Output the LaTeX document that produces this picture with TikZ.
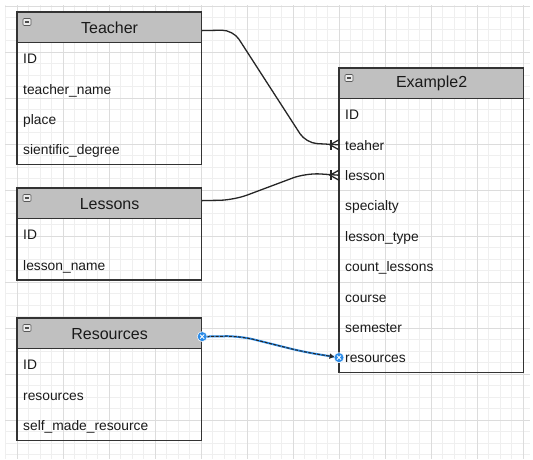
\documentclass[tikz,border=0pt]{standalone}
\usepackage{fontspec}
\setmainfont{Liberation Sans}
\usetikzlibrary{calc,arrows.meta}
\definecolor{hdrgray}{HTML}{C0C0C0}
\definecolor{boxline}{HTML}{333333}
\definecolor{gridminor}{HTML}{EFEFEF}
\definecolor{gridmajor}{HTML}{DCDCDC}
\definecolor{selblue}{HTML}{2C8CE8}
\definecolor{txt}{HTML}{1A1A1A}
\begin{document}
\begin{tikzpicture}[x=1pt,y=-1pt,
  hdr/.style={draw=boxline, line width=1.2pt, fill=hdrgray, minimum width=184pt,
    minimum height=30pt, inner sep=0pt, anchor=north west,
    font=\fontsize{16}{18}\selectfont, text=txt},
  rowbox/.style={text width=172pt, minimum height=30pt, text height=10.5pt, text depth=0pt,
    inner xsep=6pt, inner ysep=0pt, align=left, anchor=north west,
    font=\fontsize{13.8}{16}\selectfont, text=txt},
  outline/.style={draw=boxline, line width=1.2pt},
  icon/.style={draw=gray!70!black, fill=gray!15, rounded corners=1pt, minimum width=8pt,
    minimum height=7pt, inner sep=0pt, line width=0.6pt,
    path picture={\draw[line width=1.2pt, black!70]
      ([xshift=1.8pt]path picture bounding box.west) -- ([xshift=-1.8pt]path picture bounding box.east);}},
  conn/.style={draw=black!85, line width=1.3pt},
  handle/.style={circle, fill=selblue, draw=white, line width=0.5pt, minimum size=10pt, inner sep=0pt,
    path picture={\draw[white, line width=0.9pt]
      ($(path picture bounding box.center)+(-2,-2)$) -- ($(path picture bounding box.center)+(2,2)$)
      ($(path picture bounding box.center)+(-2,2)$) -- ($(path picture bounding box.center)+(2,-2)$);}}
]
\useasboundingbox (0,0) rectangle (533,459);
\fill[white] (0,0) rectangle (533,459);
% grid
\foreach \i in {0,...,45}{\draw[gridminor, line width=0.8pt] (5.5+11.5*\i,5) -- (5.5+11.5*\i,459);}
\foreach \j in {0,...,39}{\draw[gridminor, line width=0.8pt] (5,6+11.5*\j) -- (530,6+11.5*\j);}
\foreach \i in {0,...,11}{\draw[gridmajor, line width=0.9pt] (17+46*\i,5) -- (17+46*\i,459);}
\foreach \j in {0,...,9}{\draw[gridmajor, line width=0.9pt] (5,6+46*\j) -- (530,6+46*\j);}

% Teacher
\node[hdr] (teacherH) at (17,12) {Teacher};
\node[rowbox] (t1) at (teacherH.south west) {ID};
\node[rowbox] (t2) at (t1.south west) {teacher\_name};
\node[rowbox] (t3) at (t2.south west) {place};
\node[rowbox] (t4) at (t3.south west) {sientific\_degree};
\draw[outline] (teacherH.north west) rectangle (t4.south east);
\node[icon] (teacherI) at ($(teacherH.north west)+(10,10)$) {};

% Lessons
\node[hdr] (lessonsH) at (17,188) {Lessons};
\node[rowbox] (l1) at (lessonsH.south west) {ID};
\node[rowbox] (l2) at (l1.south west) {lesson\_name};
\draw[outline] (lessonsH.north west) rectangle (l2.south east);
\node[icon] (lessonsI) at ($(lessonsH.north west)+(10,10)$) {};

% Resources
\node[hdr] (resH) at (17,318) {Resources};
\node[rowbox] (r1) at (resH.south west) {ID};
\node[rowbox] (r2) at (r1.south west) {resources};
\node[rowbox] (r3) at (r2.south west) {self\_made\_resource};
\draw[outline] (resH.north west) rectangle (r3.south east);
\node[icon] (resI) at ($(resH.north west)+(10,10)$) {};

% Example2
\node[hdr] (exH) at (339,68) {Example2};
\node[rowbox] (e1) at (exH.south west) {ID};
\node[rowbox] (e2) at (e1.south west) {teaher};
\node[rowbox] (e3) at (e2.south west) {lesson};
\node[rowbox] (e4) at (e3.south west) {specialty};
\node[rowbox] (e5) at (e4.south west) {lesson\_type};
\node[rowbox] (e6) at (e5.south west) {count\_lessons};
\node[rowbox] (e7) at (e6.south west) {course};
\node[rowbox] (e8) at (e7.south west) {semester};
\node[rowbox] (e9) at (e8.south west) {resources};
\draw[outline] (exH.north west) rectangle (e9.south east);
\node[icon] (exI) at ($(exH.north west)+(10,10)$) {};

% connectors
\draw[conn, rounded corners=11pt] ($(teacherH.east)+(0,3)$) -- (233,30) -- (306,143) -- (e2.west);
\draw[conn] ($(e2.west)+(-8,-5)$) -- ($(e2.west)+(-8,5)$);
\draw[conn] ($(e2.west)+(0,-5)$) -- ($(e2.west)+(-9,0)$) -- ($(e2.west)+(0,5)$);

\draw[conn, rounded corners=14pt] ($(lessonsH.east)+(0,-3)$) -- (234,200) -- (306,173) -- (e3.west);
\draw[conn] ($(e3.west)+(-8,-5)$) -- ($(e3.west)+(-8,5)$);
\draw[conn] ($(e3.west)+(0,-5)$) -- ($(e3.west)+(-9,0)$) -- ($(e3.west)+(0,5)$);

\coordinate (rs) at ($(resH.east)+(0,3)$);
\draw[selblue, line width=2pt, rounded corners=14pt] (rs) -- (240,336) -- (304,352) -- (e9.west);
\draw[black!85, line width=1pt, dash pattern=on 3pt off 1.5pt, rounded corners=14pt, -{Latex[length=5pt,width=6pt]}, shorten >=4.5pt]
  (rs) -- (240,336) -- (304,352) -- (e9.west);
\node[handle] (hs) at (rs) {};
\node[handle] (he) at (e9.west) {};
\end{tikzpicture}
\end{document}
